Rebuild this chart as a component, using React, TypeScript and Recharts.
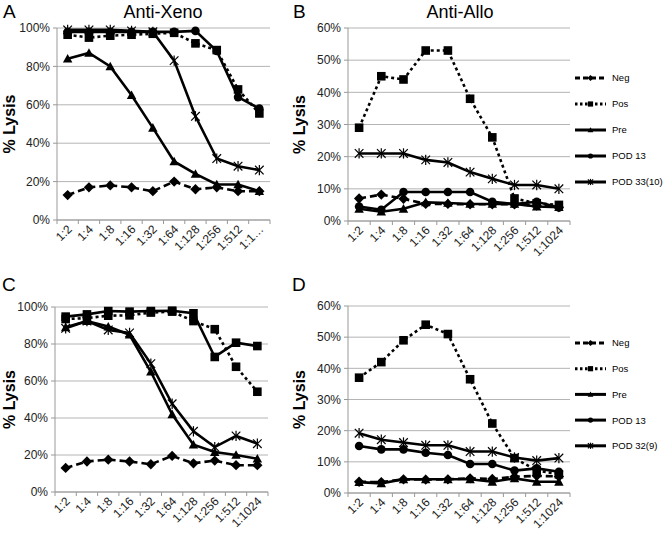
import React from 'react';
import {
  LineChart,
  Line,
  XAxis,
  YAxis,
  CartesianGrid,
  Legend,
} from 'recharts';

const FONT = '"Liberation Sans", Arial, Helvetica, sans-serif';

const CATS = ['1:2', '1:4', '1:8', '1:16', '1:32', '1:64', '1:128', '1:256', '1:512', '1:1024'];

// A - Anti-Xeno
const A_NEG = [13, 17, 18, 17, 15, 20, 16, 17, 15, 15];
const A_POS = [96.5, 95, 96, 96.5, 97, 97.5, 92, 88.5, 68, 55.5];
const A_PRE = [84, 87, 80, 65, 48, 30.5, 24, 18.5, 18.5, 15];
const A_POD13 = [98, 98, 98, 98, 98, 98, 98.5, 88, 64, 58];
const A_PODX = [99, 99, 99, 98.5, 98, 83, 54, 32, 28, 26];

// B - Anti-Allo
const B_NEG = [7, 8.2, 6.9, 5.3, 5.3, 5.2, 5.2, 5.2, 4.8, 4.3];
const B_POS = [29, 45, 44, 53, 53, 38, 26, 7, 5.5, 5];
const B_PRE = [3.8, 2.9, 3.8, 5.8, 5.6, 5.3, 5.3, 5.3, 4.5, 4.3];
const B_POD13 = [4.5, 3.5, 9, 9, 9, 9, 6, 5.3, 6, 4.2];
const B_PODX = [21, 21, 21, 19, 18.2, 15.2, 13.1, 11.2, 11.2, 10];

// C
const C_NEG = [13, 16.5, 17.5, 16.5, 15, 19.5, 15.5, 17, 14.5, 14.5];
const C_POS = [93.5, 94, 95.3, 95.5, 97, 97.5, 92.4, 88, 67.7, 54.2];
const C_PRE = [89, 92.4, 89.4, 85, 65, 42, 25.6, 21.6, 20, 18];
const C_POD13 = [94.8, 96, 97.8, 97.5, 97.8, 98, 96.6, 73, 80.7, 78.9];
const C_PODX = [88.5, 92.4, 87.6, 86, 69.4, 47.7, 32.8, 24.3, 30.3, 26.1];

// D
const D_NEG = [3.6, 3.5, 4.4, 4.3, 4.4, 4.7, 4.5, 5.2, 5.5, 5.3];
const D_POS = [37, 42, 49, 54, 51, 36.5, 22.3, 11.2, 7.2, 6];
const D_PRE = [3.5, 3.1, 4.4, 4.4, 4.4, 4.4, 3.6, 4.7, 3.6, 3.6];
const D_POD13 = [15.1, 14, 14, 12.9, 12.2, 9.3, 9.3, 7.2, 7.9, 6.8];
const D_PODX = [19.2, 17.1, 16.2, 15.3, 15.3, 13.3, 13.3, 11.4, 10.4, 11.2];

const TICKS_100 = [0, 20, 40, 60, 80, 100];
const TICKS_60 = [0, 10, 20, 30, 40, 50, 60];

const NAMES_B = ['Neg', 'Pos', 'Pre', 'POD 13', 'POD 33(10)'];
const NAMES_D = ['Neg', 'Pos', 'Pre', 'POD 13', 'POD 32(9)'];

const rows = (neg: number[], pos: number[], pre: number[], p13: number[], px: number[]) =>
  CATS.map((c, i) => ({ cat: c, neg: neg[i], pos: pos[i], pre: pre[i], pod13: p13[i], podx: px[i] }));

function Marker({ shape, cx, cy, s }: any) {
  if (cx == null || cy == null) return null;
  switch (shape) {
    case 'diamond':
      return <path d={`M${cx},${cy - s * 1.2}L${cx + s * 1.2},${cy}L${cx},${cy + s * 1.2}L${cx - s * 1.2},${cy}Z`} fill="#000" />;
    case 'square':
      return <rect x={cx - s} y={cy - s} width={s * 2} height={s * 2} fill="#000" />;
    case 'triangle':
      return <path d={`M${cx},${cy - s * 1.1}L${cx + s * 1.1},${cy + s * 0.9}L${cx - s * 1.1},${cy + s * 0.9}Z`} fill="#000" />;
    case 'circle':
      return <circle cx={cx} cy={cy} r={s} fill="#000" />;
    default:
      return (
        <g stroke="#000" strokeWidth={1.2}>
          <line x1={cx - s} y1={cy - s} x2={cx + s} y2={cy + s} />
          <line x1={cx - s} y1={cy + s} x2={cx + s} y2={cy - s} />
          <line x1={cx} y1={cy - s * 1.2} x2={cx} y2={cy + s * 1.2} />
        </g>
      );
  }
}

const baseSeries = [
  { key: 'neg', dash: '7 4', shape: 'diamond' },
  { key: 'pos', dash: '3 3', shape: 'square' },
  { key: 'pre', dash: undefined, shape: 'triangle' },
  { key: 'pod13', dash: undefined, shape: 'circle' },
  { key: 'podx', dash: undefined, shape: 'star' },
];

function XTick({ x, y, payload, step, truncate }: any) {
  const label = truncate && payload.value === '1:1024' ? '1:1…' : payload.value;
  const tx = x + 5;
  const ty = y + 10;
  return (
    <g>
      <line x1={x - step / 2} y1={y} x2={x - step / 2} y2={y + 4} stroke="#999" />
      {payload.index === CATS.length - 1 && (
        <line x1={x + step / 2} y1={y} x2={x + step / 2} y2={y + 4} stroke="#999" />
      )}
      <text
        x={tx}
        y={ty}
        textAnchor="end"
        fontSize={12}
        fill="#222"
        fontFamily={FONT}
        transform={`rotate(-45, ${tx}, ${ty})`}
      >
        {label}
      </text>
    </g>
  );
}

function LegendBox({ names, gap, shapes }: any) {
  return (
    <svg width={88} height={gap * 4 + 20} style={{ overflow: 'visible' }}>
      {baseSeries.map((s, i) => {
        const cy = 10 + gap * i;
        return (
          <g key={s.key}>
            <line x1={0} x2={31} y1={cy} y2={cy} stroke="#000" strokeWidth={3} strokeDasharray={s.dash === '3 3' ? '2.5 2.5' : s.dash ? '5 3' : undefined} />
            <Marker shape={shapes[i]} cx={15.5} cy={cy} s={2.6} />
            <text x={37} y={cy + 3.4} fontSize={9.5} fontFamily={FONT} fill="#000">
              {names[i]}
            </text>
          </g>
        );
      })}
    </svg>
  );
}

function Panel({ pos, data, max, ticks, margin, yWidth, xHeight, labelX, truncate, legend, shapes }: any) {
  const plotW = pos.width - margin.left - margin.right - yWidth;
  const step = plotW / CATS.length;
  return (
    <div style={{ position: 'absolute', ...pos }}>
      <LineChart width={pos.width} height={pos.height} data={data} margin={margin}>
        <CartesianGrid vertical={false} stroke="#b4b4b4" />
        <XAxis
          dataKey="cat"
          interval={0}
          height={xHeight}
          padding={{ left: step / 2, right: step / 2 }}
          axisLine={{ stroke: '#999' }}
          tickLine={false}
          tickSize={0}
          tickMargin={0}
          tick={(p: any) => <XTick {...p} step={step} truncate={truncate} />}
        />
        <YAxis
          width={yWidth}
          domain={[0, max]}
          ticks={ticks}
          interval={0}
          axisLine={{ stroke: '#999' }}
          tickLine={{ stroke: '#999' }}
          tickSize={4}
          tickMargin={3}
          tickFormatter={(v: number) => `${v}%`}
          tick={{ fontSize: 12, fill: '#222', fontFamily: FONT }}
          label={{
            value: '% Lysis',
            angle: -90,
            position: 'insideLeft',
            offset: labelX,
            style: { textAnchor: 'middle', fontSize: 16, fontWeight: 700, fill: '#000', fontFamily: FONT },
          }}
        />
        {legend && (
          <Legend
            layout="vertical"
            align="center"
            verticalAlign="middle"
            wrapperStyle={{ left: legend.left, top: legend.top, width: 88 }}
            content={() => <LegendBox names={legend.names} gap={legend.gap} shapes={shapes} />}
          />
        )}
        {baseSeries.map((s, i) => (
          <Line
            key={s.key}
            dataKey={s.key}
            name={legend ? legend.names[i] : s.key}
            stroke="#000"
            strokeWidth={2.6}
            strokeDasharray={s.dash}
            isAnimationActive={false}
            dot={(p: any) => <Marker key={`${s.key}-${p.index}`} shape={shapes[i]} cx={p.cx} cy={p.cy} s={4.3} />}
            activeDot={false}
          />
        ))}
      </LineChart>
    </div>
  );
}

export default function App() {
  const shapesStd = baseSeries.map((s) => s.shape);
  const shapesC = ['diamond', 'square', 'triangle', 'square', 'star'];
  return (
    <div style={{ position: 'absolute', left: 0, top: 0, width: 664, height: 533, background: '#fff', fontFamily: FONT }}>
      <Panel
        pos={{ left: 0, top: 0, width: 330, height: 270 }}
        data={rows(A_NEG, A_POS, A_PRE, A_POD13, A_PODX)}
        max={100}
        ticks={TICKS_100}
        margin={{ top: 28, right: 60, left: 0, bottom: 0 }}
        yWidth={57}
        xHeight={50}
        labelX={9}
        truncate
        shapes={shapesStd}
      />
      <Panel
        pos={{ left: 280, top: 0, width: 384, height: 270 }}
        data={rows(B_NEG, B_POS, B_PRE, B_POD13, B_PODX)}
        max={60}
        ticks={TICKS_60}
        margin={{ top: 28, right: 94, left: 0, bottom: 0 }}
        yWidth={68}
        xHeight={49}
        labelX={19}
        legend={{ left: 295, top: 68, gap: 26, names: NAMES_B }}
        shapes={shapesStd}
      />
      <Panel
        pos={{ left: 0, top: 270, width: 330, height: 263 }}
        data={rows(C_NEG, C_POS, C_PRE, C_POD13, C_PODX)}
        max={100}
        ticks={TICKS_100}
        margin={{ top: 37, right: 62, left: 0, bottom: 0 }}
        yWidth={55}
        xHeight={41}
        labelX={9}
        shapes={shapesC}
      />
      <Panel
        pos={{ left: 280, top: 270, width: 384, height: 263 }}
        data={rows(D_NEG, D_POS, D_PRE, D_POD13, D_PODX)}
        max={60}
        ticks={TICKS_60}
        margin={{ top: 36, right: 94, left: 0, bottom: 0 }}
        yWidth={68}
        xHeight={40}
        labelX={19}
        legend={{ left: 295, top: 63, gap: 25.7, names: NAMES_D }}
        shapes={shapesStd}
      />
      <svg width={664} height={533} style={{ position: 'absolute', left: 0, top: 0, pointerEvents: 'none' }}>
        <g fontFamily={FONT} fill="#000">
          <text x={3} y={18} fontSize={19}>A</text>
          <text x={293} y={18} fontSize={19}>B</text>
          <text x={2} y={291} fontSize={19}>C</text>
          <text x={292} y={291} fontSize={19}>D</text>
          <text x={163} y={18} fontSize={18} textAnchor="middle">Anti-Xeno</text>
          <text x={460} y={18} fontSize={18} textAnchor="middle">Anti-Allo</text>
        </g>
      </svg>
    </div>
  );
}
